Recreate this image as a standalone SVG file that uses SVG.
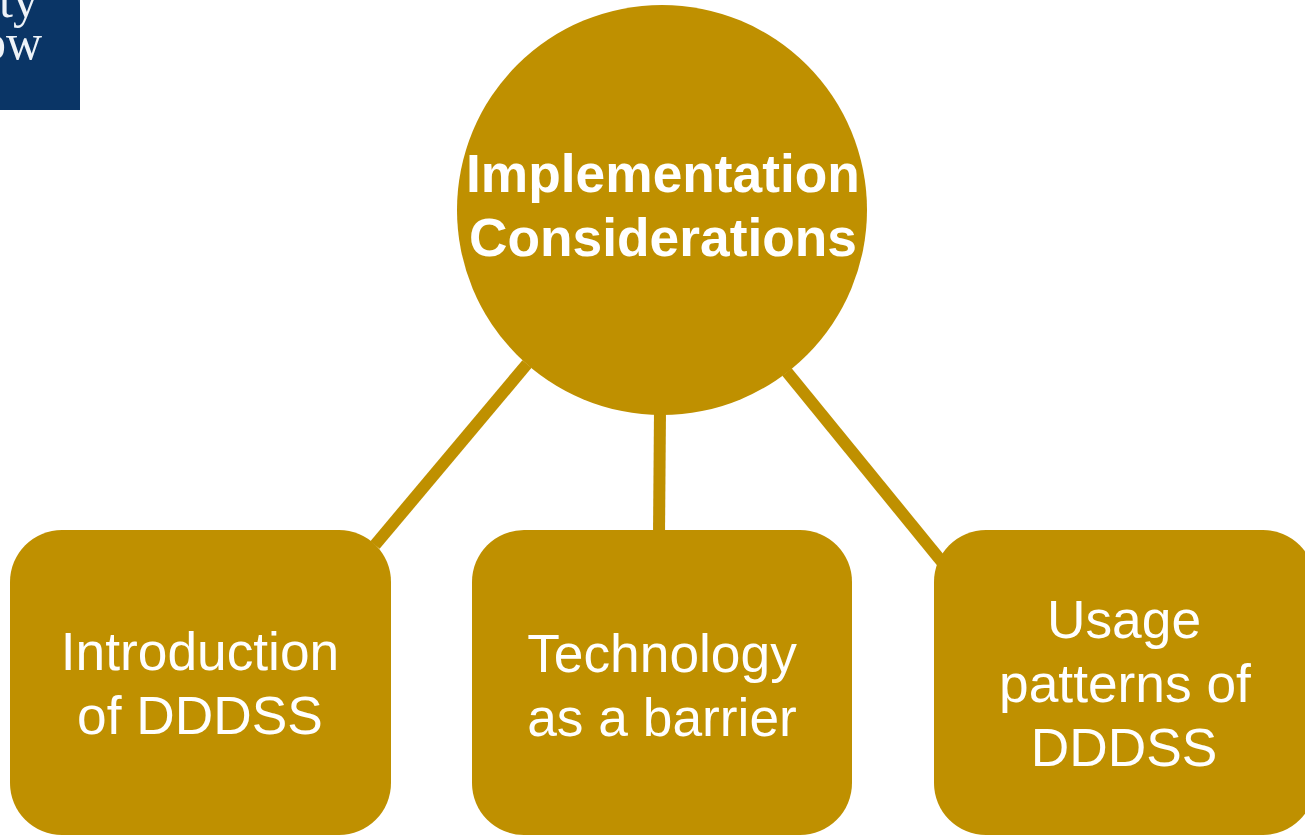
<svg xmlns="http://www.w3.org/2000/svg" width="1305" height="835" viewBox="0 0 1305 835">
<style>
.n{fill:#bf9000}
.c{stroke:#bf9000;stroke-width:12;fill:none}
.h{font:700 53.3px "Liberation Sans",Arial,sans-serif;fill:#fff;text-anchor:middle}
.t{font:400 53.3px "Liberation Sans",Arial,sans-serif;fill:#fff;text-anchor:middle}
.l{font:400 50px "Liberation Serif",serif;fill:#eef3f8;text-anchor:end}
</style>
<rect width="1305" height="835" fill="#fff"/>
<g id="logo"><rect x="-1" y="-1" width="81" height="111" fill="#0a3566"/>
<text class="l" x="38" y="17">ty</text><text class="l" x="42" y="59">ow</text></g>
<g id="connectors">
<path class="c" d="M527 364 375 545"/>
<path class="c" d="M660 410 659 535"/>
<path class="c" d="M787 372 942 562"/>
</g>
<g id="center"><circle class="n" cx="662" cy="210" r="205"/>
<text class="h" x="663" y="192">Implementation</text><text class="h" x="663" y="256">Considerations</text></g>
<g id="n1"><rect class="n" x="10" y="530" width="381" height="305" rx="52"/>
<text class="t" x="200" y="670">Introduction</text><text class="t" x="200" y="734">of DDDSS</text></g>
<g id="n2"><rect class="n" x="472" y="530" width="380" height="305" rx="52"/>
<text class="t" x="662" y="672">Technology</text><text class="t" x="662" y="736">as a barrier</text></g>
<g id="n3"><rect class="n" x="934" y="530" width="381" height="305" rx="52"/>
<text class="t" x="1124" y="638">Usage</text><text class="t" x="1125" y="702">patterns of</text><text class="t" x="1124" y="766">DDDSS</text></g>
</svg>
